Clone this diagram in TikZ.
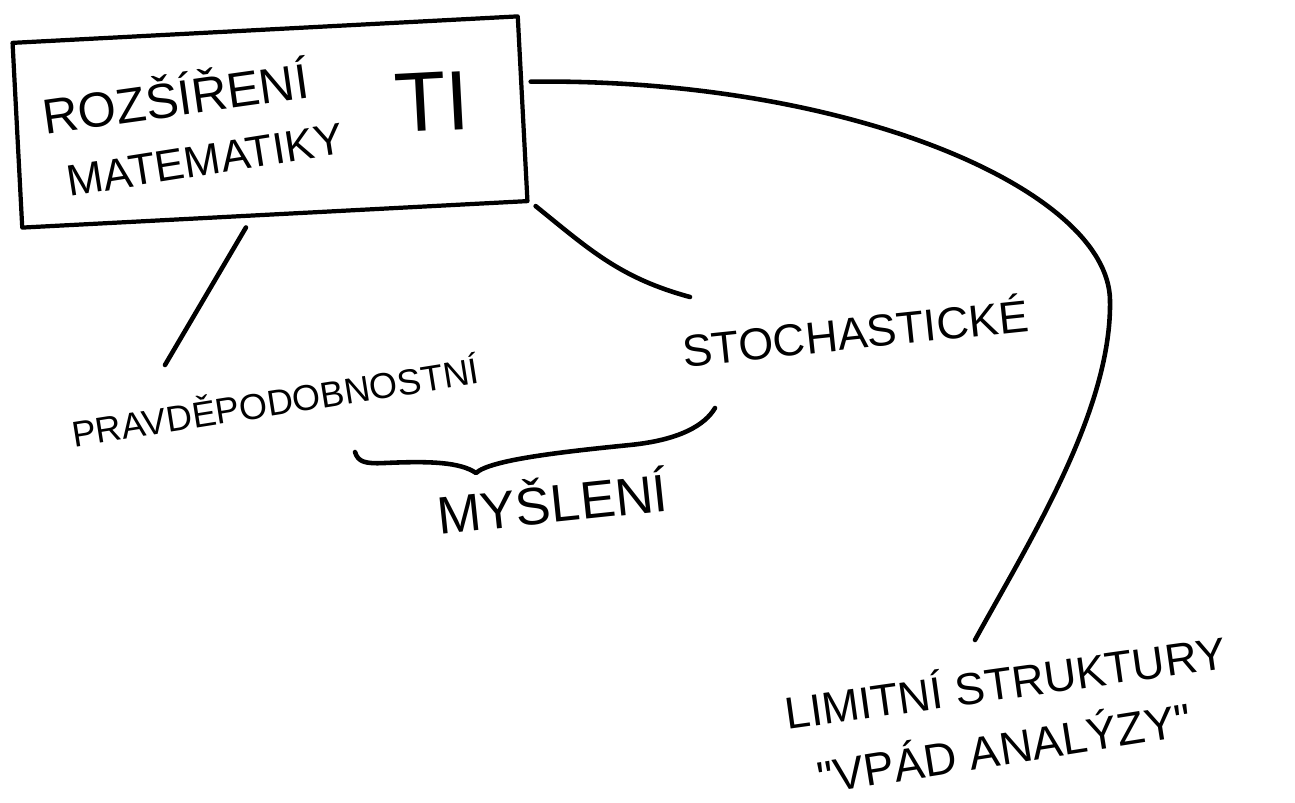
\documentclass[tikz,border=0pt]{standalone}
\usepackage{fontspec}
\newfontfamily\handfont{Liberation Sans}
\usetikzlibrary{calc}

\begin{document}
\begin{tikzpicture}[
x=0.02cm, y=-0.02cm,
line cap=round, line join=round,
lbl/.style={inner sep=0pt, font=\handfont\fontsize{#1}{#1}\selectfont},
lbl/.default=26,
frame/.style={draw, rectangle, line width=2.4pt, minimum width=10.12cm, minimum height=3.7cm, inner sep=0pt},
link/.style={line width=2.6pt}
]
\useasboundingbox (0,0) rectangle (1295,803);

% Box with the title
\node[frame, rotate=3] (box) at (270,122) {};
\node[lbl=28, rotate=8] (rozs) at (175,95) {ROZŠÍŘENÍ};
\node[lbl=25, rotate=9] (mate) at (205,160) {MATEMATIKY};
\node[lbl=48, rotate=3] (ti) at (432,102) {TI};

% Labels
\node[lbl=25.5, rotate=6] (stoch) at (855,330) {STOCHASTICKÉ};
\node[lbl=20.5, rotate=9] (pravd) at (275,400) {PRAVDĚPODOBNOSTNÍ};
\node[lbl=30, rotate=6] (mysl) at (552,500) {MYŠLENÍ};
\node[lbl=25.5, rotate=8] (limit) at (1005,680) {LIMITNÍ STRUKTURY};
\node[lbl=26, rotate=9] (vpad) at (1004,745) {"VPÁD ANALÝZY"};

% Connectors
\draw[link] ($(box.south)+(-29,11)$) -- ($(pravd.center)+(-110,-35)$);
\draw[link] ($(box.south east)+(6,3)$) .. controls (590,250) and (620,278) .. ($(stoch.center)+(-165,-33)$);
\draw[link] ($(box.east)+(6,-27)$) .. controls (850,78) and (1108,190) .. (1110,300)
  .. controls (1112,410) and (1030,540) .. ($(limit.center)+(-30,-40)$);

% Brace
\draw[link] (355,452) .. controls (358,462) and (365,464) .. (385,463)
  .. controls (430,461) and (460,462) .. (476,473)
  .. controls (490,460) and (560,452) .. (630,445)
  .. controls (680,440) and (705,425) .. (715,408);
\end{tikzpicture}
\end{document}
